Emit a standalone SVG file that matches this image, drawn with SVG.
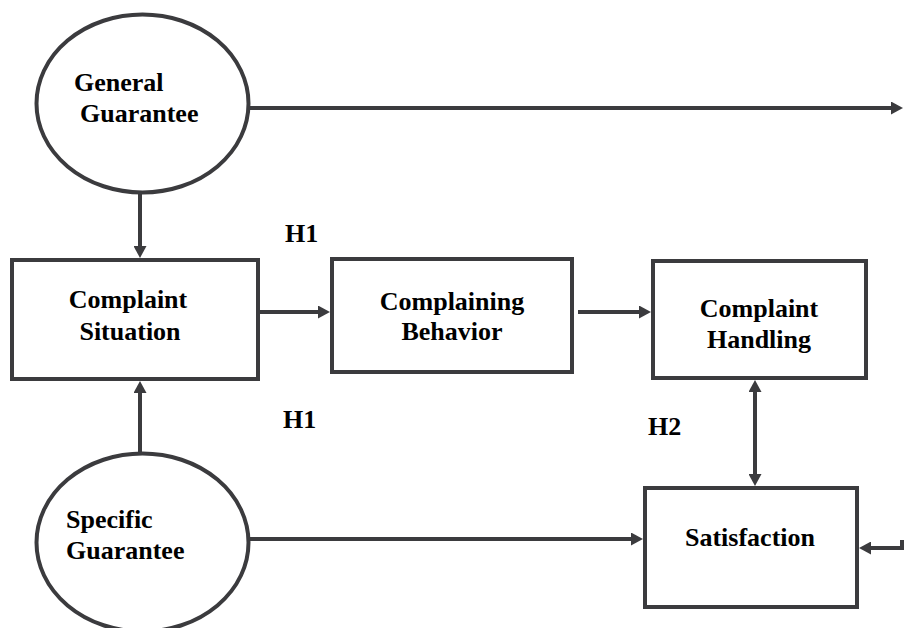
<svg xmlns="http://www.w3.org/2000/svg" width="904" height="628" viewBox="0 0 904 628">
<defs>
<style>
.node{fill:#fff;stroke:#3b3b3e;stroke-width:4}
.lbl{font-family:"Liberation Serif","Times New Roman",serif;font-weight:bold;font-size:26px;fill:#000}
.mid{text-anchor:middle}
.conn line,.conn polyline{stroke:#3b3b3e;stroke-width:4;fill:none}
</style>
<marker id="ah" markerUnits="userSpaceOnUse" markerWidth="12" markerHeight="13" refX="3" refY="6.5" orient="auto-start-reverse" viewBox="0 0 12 13">
<path d="M0,0 L12,6.5 L0,13 Z" fill="#3b3b3e"/>
</marker>
</defs>
<rect width="904" height="628" fill="#fff"/>
<g class="conn" id="connectors">
<line x1="249" y1="108" x2="894" y2="108" marker-end="url(#ah)"/>
<line x1="140" y1="193" x2="140" y2="249" marker-end="url(#ah)"/>
<line x1="258" y1="312" x2="321" y2="312" marker-end="url(#ah)"/>
<line x1="578" y1="312" x2="642" y2="312" marker-end="url(#ah)"/>
<line x1="140" y1="453" x2="140" y2="390" marker-end="url(#ah)"/>
<line x1="249" y1="539" x2="634" y2="539" marker-end="url(#ah)"/>
<line x1="755" y1="389" x2="755" y2="477" marker-start="url(#ah)" marker-end="url(#ah)"/>
<polyline points="902,540 902,548 868,548" marker-end="url(#ah)"/>
</g>
<g id="general-guarantee">
<ellipse class="node" cx="142.5" cy="103.5" rx="106" ry="89"/>
<text class="lbl" x="74" y="91">General</text>
<text class="lbl" x="80" y="122">Guarantee</text>
</g>
<g id="specific-guarantee">
<ellipse class="node" cx="142.5" cy="542.5" rx="106" ry="89"/>
<text class="lbl" x="66" y="528">Specific</text>
<text class="lbl" x="66" y="559">Guarantee</text>
</g>
<g id="complaint-situation">
<rect class="node" x="12" y="260" width="246" height="119"/>
<text class="lbl mid" x="128" y="308">Complaint</text>
<text class="lbl mid" x="130" y="340">Situation</text>
</g>
<g id="complaining-behavior">
<rect class="node" x="332" y="259" width="240" height="113"/>
<text class="lbl mid" x="452" y="310">Complaining</text>
<text class="lbl mid" x="452" y="340">Behavior</text>
</g>
<g id="complaint-handling">
<rect class="node" x="653" y="261" width="213" height="117"/>
<text class="lbl mid" x="759" y="317">Complaint</text>
<text class="lbl mid" x="759" y="348">Handling</text>
</g>
<g id="satisfaction">
<rect class="node" x="645" y="488" width="212" height="119"/>
<text class="lbl mid" x="750" y="546">Satisfaction</text>
</g>
<g id="labels">
<text class="lbl" x="285" y="242">H1</text>
<text class="lbl" x="283" y="428">H1</text>
<text class="lbl" x="648" y="435">H2</text>
</g>
</svg>
